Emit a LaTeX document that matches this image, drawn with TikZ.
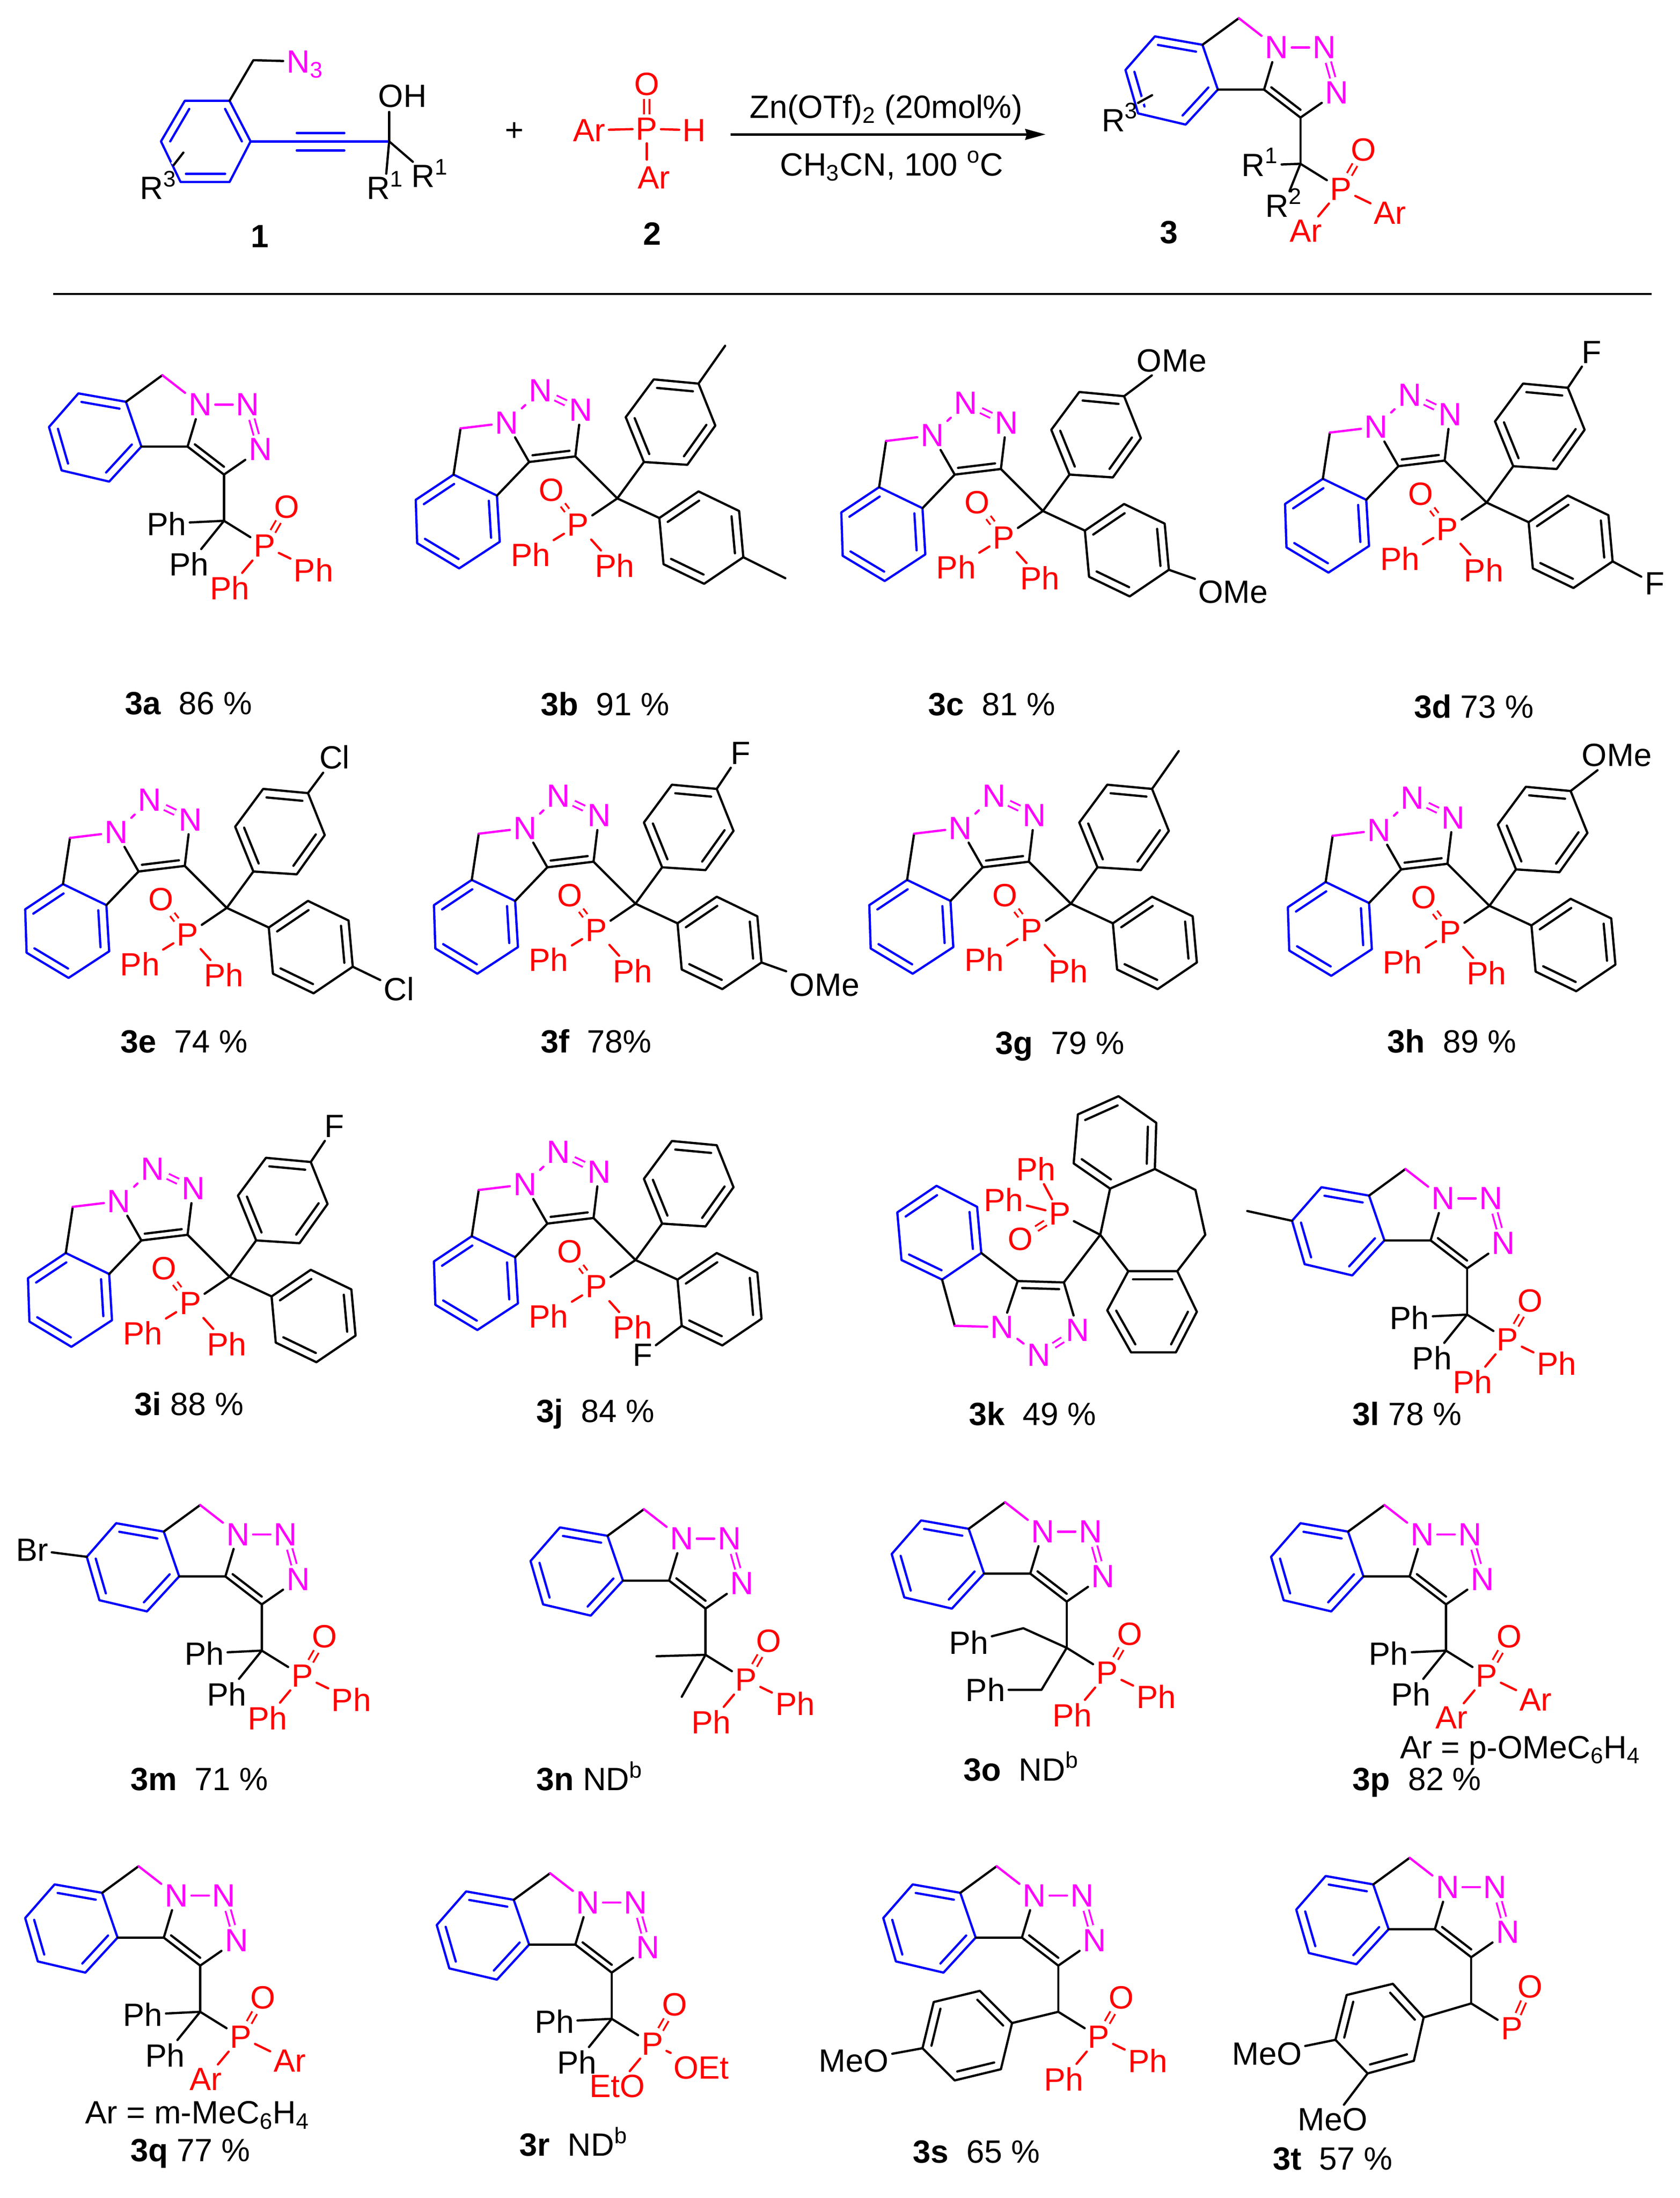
\documentclass[tikz,border=0pt]{standalone}
\usepackage{fontspec}
\setmainfont{Liberation Sans}
\usetikzlibrary{calc,arrows.meta}
\definecolor{mag}{RGB}{255,0,255}
\definecolor{blu}{RGB}{0,0,255}
\definecolor{rd}{RGB}{255,0,0}
\tikzset{
  bond/.style={line width=1.6pt,line cap=round,line join=round},
  dblbond/.style={line width=1.3pt,double=white,double distance=2.6pt},
  atom/.style={inner sep=2.3pt,font=\fontsize{23}{25}\selectfont},
  boldlab/.style={atom,font=\fontsize{23}{25}\selectfont\bfseries},
  basetext/.style={anchor=base,inner sep=0pt,font=\fontsize{23}{25}\selectfont},
  capt/.style={anchor=base west,inner sep=0pt,font=\fontsize{23}{25}\selectfont}
}
\newcommand\innerline[4]{\draw[bond,#1] ($(#2)!.2!(#4)$)--($(#3)!.2!(#4)$);}
\newcommand\ring[7]{%
  \draw[bond,#1] (#2)--(#3)--(#4)--(#5)--(#6)--(#7)--cycle;
  \coordinate (cc) at ($(#2)!.5!(#5)$);
  \innerline{#1}{#2}{#3}{cc}\innerline{#1}{#4}{#5}{cc}\innerline{#1}{#6}{#7}{cc}}
\newcommand\capt[4]{\node[capt] (#1) at (#2,#3+8) {#4};}
% ---- core A: CH2 on top, benzene on the left
\newcommand\coreA{%
  \coordinate (H) at (0,0);
  \coordinate (a1) at (-26,19);\coordinate (a2) at (-60,13);\coordinate (a3) at (-81,37);
  \coordinate (a4) at (-72,68);\coordinate (a5) at (-38,76);\coordinate (a6) at (-15,51);
  \coordinate (C1) at (18,51);\coordinate (C2) at (44,71);\coordinate (CA) at (44,104);
  \coordinate (tc) at (44,43);
  \node[atom,mag] (N1) at (27,21) {N};
  \node[atom,mag] (N2) at (61,21) {N};
  \node[atom,mag] (N3) at (70,53) {N};
  \ring{blu}{a1}{a2}{a3}{a4}{a5}{a6}
  \draw[bond] (a1)--(H);
  \draw[bond,mag] (H)--(N1);
  \draw[bond,mag] (N1)--(N2);
  \draw[dblbond,mag] (N2)--(N3);
  \draw[bond] (N1)--(C1)--(a6);
  \draw[bond] (C1)--(C2);
  \innerline{black}{C1}{C2}{tc}
  \draw[bond] (C2)--(N3);
  \draw[bond] (C2)--(CA);}
\newcommand\tailP[2]{%
  \node[atom,rd] (P) at (73,122) {P};
  \node[atom,rd] (O) at (89,94) {O};
  \node[atom,rd] (PR) at (108,139) {#1};
  \node[atom,rd] (PB) at (48,152) {#2};
  \draw[bond] (CA)--(P);
  \draw[dblbond,rd] (P)--(O);
  \draw[bond,rd] (P)--(PR);
  \draw[bond,rd] (P)--(PB);}
\newcommand\tailC{%
  \node[atom] (L1) at (3,106) {Ph};
  \node[atom] (L2) at (19,135) {Ph};
  \draw[bond] (CA)--(L1);
  \draw[bond] (CA)--(L2);}
% ---- core B: triazole on top, benzene lower left, CAr2
\newcommand\coreB{%
  \coordinate (H) at (0,0);
  \coordinate (b1) at (-5,33);\coordinate (b2) at (-32,51);\coordinate (b3) at (-31,82);
  \coordinate (b4) at (-1,100);\coordinate (b5) at (28,81);\coordinate (b6) at (26,48);
  \coordinate (C1) at (49,24);\coordinate (C2) at (82,20);\coordinate (tc) at (61,0);
  \coordinate (CA) at (112,50);
  \coordinate (u0) at (131,24);\coordinate (u1) at (162,26);\coordinate (u2) at (182,-2);
  \coordinate (u3) at (170,-32);\coordinate (u4) at (138,-35);\coordinate (u5) at (118,-8);
  \coordinate (l0) at (142,64);\coordinate (l1) at (170,45);\coordinate (l2) at (199,59);
  \coordinate (l3) at (202,92);\coordinate (l4) at (174,111);\coordinate (l5) at (145,97);
  \node[atom,mag] (N1) at (33,-4) {N};
  \node[atom,mag] (N2) at (57,-27) {N};
  \node[atom,mag] (N3) at (86,-13) {N};
  \node[atom,rd] (P) at (84,69) {P};
  \node[atom,rd] (O) at (65,44) {O};
  \node[atom,rd] (PL) at (50,90) {Ph};
  \node[atom,rd] (PR) at (110,98) {Ph};
  \ring{blu}{b1}{b2}{b3}{b4}{b5}{b6}
  \draw[bond] (b1)--(H);
  \draw[bond,mag] (H)--(N1);
  \draw[bond,mag] (N1)--(N2);
  \draw[dblbond,mag] (N2)--(N3);
  \draw[bond] (N1)--(C1)--(b6);
  \draw[bond] (C1)--(C2);
  \innerline{black}{C1}{C2}{tc}
  \draw[bond] (C2)--(N3);
  \draw[bond] (C2)--(CA);
  \draw[bond] (CA)--(u0);
  \draw[bond] (CA)--(l0);
  \ring{black}{u1}{u2}{u3}{u4}{u5}{u0}
  \ring{black}{l0}{l1}{l2}{l3}{l4}{l5}
  \draw[bond] (CA)--(P);
  \draw[dblbond,rd] (P)--(O);
  \draw[bond,rd] (P)--(PL);
  \draw[bond,rd] (P)--(PR);}
\newcommand\subU[2]{\node[atom] (SU) at (#1,-57.5) {#2};\draw[bond] (u3)--(SU);}
\newcommand\subL[2]{\node[atom] (SL) at (#1,108) {#2};\draw[bond] (l3)--(SL);}
\newcommand\meU{\coordinate (MU) at (189,-59);\draw[bond] (u3)--(MU);}
\newcommand\meL{\coordinate (ML) at (232,107);\draw[bond] (l3)--(ML);}
\newcommand\Rs[1]{R\smash{\textsuperscript{#1}}}
\begin{document}
\begin{tikzpicture}[x=1pt,y=-1pt]
\useasboundingbox (0,0) rectangle (1200,1570);
\fill[white] (0,0) rectangle (1200,1570);
% ===== compound 1
\coordinate (s1a) at (132,72);\coordinate (s1b) at (115,101);\coordinate (s1c) at (129,130);
\coordinate (s1d) at (164,130);\coordinate (s1e) at (179,101);\coordinate (s1f) at (164,72);
\coordinate (s1h) at (181,43);\coordinate (s1q) at (278,101);\coordinate (s1up) at (278,80);
\coordinate (s1t1) at (212,95);\coordinate (s1t2) at (246,95);\coordinate (s1t3) at (212,107.5);\coordinate (s1t4) at (246,107.5);
\coordinate (s1r) at (131,109);\coordinate (s1r2) at (124,118);
\ring{blu}{s1a}{s1b}{s1c}{s1d}{s1e}{s1f}
\node[atom,mag,anchor=west] (s1N) at (202.3,44) {N\smash{\textsubscript{3}}};
\node[atom] (s1OH) at (287.5,68.7) {OH};
\node[atom] (s1R1) at (275,134.5) {\Rs{1}};
\node[atom] (s1R2) at (307,126) {\Rs{1}};
\node[atom] (s1R3) at (113,134.5) {\Rs{3}};
\draw[bond] (s1f)--(s1h)--(s1N);
\draw[bond,blu] (s1e)--(s1q);
\draw[bond,blu] (s1t1)--(s1t2);
\draw[bond,blu] (s1t3)--(s1t4);
\draw[bond] (s1q)--(s1up);
\draw[bond] (s1q)--(s1R1);
\draw[bond] (s1q)--(s1R2);
\draw[line width=5pt,white] (s1r)--(s1r2);
\draw[bond] (s1r)--(s1r2);
\node[atom] (plus) at (367.5,94) {+};
% ===== compound 2
\node[atom,rd] (s2P) at (462,92) {P};
\node[atom,rd] (s2O) at (462,60) {O};
\node[atom,rd] (s2A) at (421,93) {Ar};
\node[atom,rd] (s2H) at (496,93) {H};
\node[atom,rd] (s2B) at (467,127) {Ar};
\coordinate (s2t) at (462,114);
\draw[dblbond,rd] (s2P)--(s2O);
\draw[bond,rd] (s2P)--(s2A);
\draw[bond,rd] (s2P)--(s2H);
\draw[bond,rd] (s2P)--(s2t);
% ===== arrow
\coordinate (arA) at (522,96);\coordinate (arB) at (747,96);
\draw[line width=1.9pt,-{Stealth[length=14.5pt,width=7.6pt,inset=1pt]}] (arA)--(arB);
\node[basetext] (cond1) at (633,84.3) {Zn(OTf)\textsubscript{2} (20mol\%)};
\node[basetext] (cond2) at (637,125.5) {CH\textsubscript{3}CN, 100 \textsuperscript{o}C};
% ===== product 3
\begin{scope}[shift={(885,13)}]
\coreA
\tailP{Ar}{Ar}
\node[atom] (s3R3) at (-85,73) {\Rs{3}};
\coordinate (s3ra) at (-62,55);\coordinate (s3rb) at (-72,60.5);
\draw[line width=5pt,white] (s3ra)--(s3rb);
\draw[bond] (s3ra)--(s3rb);
\node[atom] (s3R1) at (15,105) {\Rs{1}};
\node[atom] (s3R2) at (32,134) {\Rs{2}};
\draw[bond] (CA)--(s3R1);
\draw[bond] (CA)--(s3R2);
\end{scope}
\node[boldlab] (lab1) at (185.5,169) {1};
\node[boldlab] (lab2) at (466,167) {2};
\node[boldlab] (lab3) at (835,166) {3};
\coordinate (ruleA) at (38,210);\coordinate (ruleB) at (1180,210);
\draw[line width=1.5pt] (ruleA)--(ruleB);
% ===== row 1
\begin{scope}[shift={(116,268)}]\coreA\tailC\tailP{Ph}{Ph}\end{scope}
\capt{c3a}{89}{502.5}{\textbf{3a}\ \ 86 \%}
\begin{scope}[shift={(329,306)}]\coreB\meU\meL\end{scope}
\capt{c3b}{386}{503}{\textbf{3b}\ \ 91 \%}
\begin{scope}[shift={(633,315)}]\coreB\subU{204}{OMe}\subL{248}{OMe}\end{scope}
\capt{c3c}{663}{503}{\textbf{3c}\ \ 81 \%}
\begin{scope}[shift={(950,309)}]\coreB\subU{187}{F}\subL{232}{F}\end{scope}
\capt{c3d}{1010}{505}{\textbf{3d} 73 \%}
% ===== row 2
\begin{scope}[shift={(50,598.5)}]\coreB\subU{189}{Cl}\subL{235}{Cl}\end{scope}
\capt{c3e}{86}{744}{\textbf{3e}\ \ 74 \%}
\begin{scope}[shift={(342,595.5)}]\coreB\subU{187}{F}\subL{247}{OMe}\end{scope}
\capt{c3f}{386}{744}{\textbf{3f}\ \ 78\%}
\begin{scope}[shift={(653,595.5)}]\coreB\meU\end{scope}
\capt{c3g}{711}{745}{\textbf{3g}\ \ 79 \%}
\begin{scope}[shift={(952,597)}]\coreB\subU{203}{OMe}\end{scope}
\capt{c3h}{991}{744}{\textbf{3h}\ \ 89 \%}
% ===== row 3
\begin{scope}[shift={(52,862)}]\coreB\subU{187}{F}\end{scope}
\capt{c3i}{96}{1003}{\textbf{3i} 88 \%}
\begin{scope}[shift={(342,850)}]\coreB
  \node[atom] (SF) at (117,118) {F};\draw[bond] (l5)--(SF);
\end{scope}
\capt{c3j}{383}{1008}{\textbf{3j}\ \ 84 \%}
% 3k
\coordinate (ka) at (669,847);\coordinate (kb) at (641,866);\coordinate (kc) at (644,900);
\coordinate (kd) at (673,914);\coordinate (ke) at (701,895);\coordinate (kf) at (698,862);
\ring{blu}{ka}{kb}{kc}{kd}{ke}{kf}
\coordinate (kC1) at (727,915);\coordinate (kC2) at (760,916);\coordinate (kH) at (682,947);
\coordinate (ktc) at (743,940);\coordinate (kA) at (786,882);
\node[atom,mag] (kN1) at (716,948) {N};
\node[atom,mag] (kN2) at (742,968) {N};
\node[atom,mag] (kN3) at (770,950) {N};
\draw[bond] (ke)--(kC1)--(kC2);
\innerline{black}{kC1}{kC2}{ktc}
\draw[bond] (kd)--(kH);
\draw[bond,mag] (kH)--(kN1);
\draw[bond,mag] (kN1)--(kN2);
\draw[dblbond,mag] (kN2)--(kN3);
\draw[bond] (kC1)--(kN1);
\draw[bond] (kC2)--(kN3);
\draw[bond] (kC2)--(kA);
\coordinate (ta) at (793,849);\coordinate (tb) at (767,831);\coordinate (tc2) at (770,796);
\coordinate (td) at (799,783);\coordinate (te) at (826,802);\coordinate (tf) at (825,835);
\ring{black}{ta}{tb}{tc2}{td}{te}{tf}
\coordinate (la) at (806,908);\coordinate (lb) at (841,908);\coordinate (lc) at (855,937);
\coordinate (ld) at (840,966);\coordinate (le) at (808,966);\coordinate (lf) at (791,936);
\ring{black}{la}{lb}{lc}{ld}{le}{lf}
\coordinate (br1) at (854,850);\coordinate (br2) at (861,882);
\draw[bond] (tf)--(br1)--(br2)--(lb);
\draw[bond] (kA)--(ta);
\draw[bond] (kA)--(la);
\node[atom,rd] (kP) at (757,867) {P};
\node[atom,rd] (kPh1) at (740,835) {Ph};
\node[atom,rd] (kPh2) at (717,857) {Ph};
\node[atom,rd] (kO) at (729,885) {O};
\draw[bond] (kA)--(kP);
\draw[bond,rd] (kP)--(kPh1);
\draw[bond,rd] (kP)--(kPh2);
\draw[dblbond,rd] (kP)--(kO);
\capt{c3k}{692}{1010}{\textbf{3k}\ \ 49 \%}
\begin{scope}[shift={(1004,835)}]\coreA\tailC\tailP{Ph}{Ph}
  \coordinate (me) at (-113,30);\draw[bond] (a3)--(me);
\end{scope}
\capt{c3l}{966}{1010}{\textbf{3l} 78 \%}
% ===== row 4
\begin{scope}[shift={(143,1075)}]\coreA\tailC\tailP{Ph}{Ph}
  \node[atom] (Br) at (-120,32) {Br};\draw[bond] (a3)--(Br);
\end{scope}
\capt{c3m}{93}{1271}{\textbf{3m}\ \ 71 \%}
\begin{scope}[shift={(460,1078)}]\coreA\tailP{Ph}{Ph}
  \coordinate (m1) at (9,105);\coordinate (m2) at (27,134);
  \draw[bond] (CA)--(m1);\draw[bond] (CA)--(m2);
\end{scope}
\capt{c3n}{383}{1271}{\textbf{3n} ND\textsuperscript{b}}
\begin{scope}[shift={(718,1073)}]\coreA\tailP{Ph}{Ph}
  \coordinate (o1) at (13,90);\coordinate (o2) at (26,134);
  \node[atom] (oL1) at (-26,100) {Ph};
  \node[atom] (oL2) at (-14,134) {Ph};
  \draw[bond] (CA)--(o1)--(oL1);
  \draw[bond] (CA)--(o2)--(oL2);
\end{scope}
\capt{c3o}{688}{1264}{\textbf{3o}\ \ ND\textsuperscript{b}}
\begin{scope}[shift={(989,1075)}]\coreA\tailC\tailP{Ar}{Ar}\end{scope}
\node[basetext] (arp) at (1086,1256) {Ar = p-OMeC\textsubscript{6}H\textsubscript{4}};
\capt{c3p}{966}{1271}{\textbf{3p}\ \ 82 \%}
% ===== row 5
\begin{scope}[shift={(99,1333)}]\coreA\tailC\tailP{Ar}{Ar}\end{scope}
\node[basetext] (arq) at (141,1517) {Ar = m-MeC\textsubscript{6}H\textsubscript{4}};
\capt{c3q}{93}{1536}{\textbf{3q} 77 \%}
\begin{scope}[shift={(393,1338)}]\coreA\tailC\tailP{OEt}{EtO}\end{scope}
\capt{c3r}{371}{1532}{\textbf{3r}\ \ ND\textsuperscript{b}}
\begin{scope}[shift={(712,1333)}]\coreA\tailP{Ph}{Ph}
  \coordinate (sa) at (11,112);\coordinate (sb) at (-12,89);\coordinate (sc) at (-45,97);
  \coordinate (sd) at (-53,130);\coordinate (se) at (-30,153);\coordinate (sf) at (3,145);
  \ring{black}{sa}{sb}{sc}{sd}{se}{sf}
  \node[atom] (sMe) at (-102,139) {MeO};
  \draw[bond] (CA)--(sa);
  \draw[bond] (sd)--(sMe);
\end{scope}
\capt{c3s}{652}{1537}{\textbf{3s}\ \ 65 \%}
\begin{scope}[shift={(1007,1327)}]\coreA
  \node[atom,rd] (P) at (73,122) {P};
  \node[atom,rd] (O) at (86,92) {O};
  \draw[bond] (CA)--(P);
  \draw[dblbond,rd] (P)--(O);
  \coordinate (sa) at (10,114);\coordinate (sb) at (-12,90);\coordinate (sc) at (-45,98);
  \coordinate (sd) at (-53,130);\coordinate (se) at (-30,154);\coordinate (sf) at (3,145);
  \ring{black}{sa}{sb}{sc}{sd}{se}{sf}
  \node[atom] (tMe1) at (-102,140) {MeO};
  \node[atom] (tMe2) at (-55,187) {MeO};
  \draw[bond] (CA)--(sa);
  \draw[bond] (sd)--(tMe1);
  \draw[bond] (se)--(tMe2);
\end{scope}
\capt{c3t}{909}{1542}{\textbf{3t}\ \ 57 \%}
\end{tikzpicture}
\end{document}
